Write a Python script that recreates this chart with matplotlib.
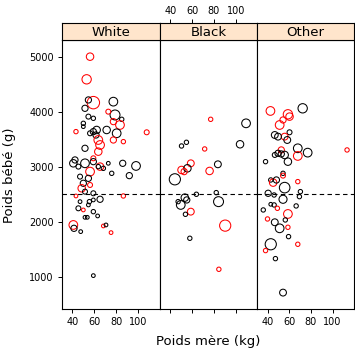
import matplotlib
matplotlib.use("Agg")
import matplotlib.pyplot as plt

# ---- data (mother kg, baby g, circle radius, smoker) ----
races = ["White", "Black", "Other"]

white_lwt = [56.1, 53.0, 59.1, 54.6, 77.3, 51.5, 78.8, 72.7, 54.6, 59.1, 84.9, 83.3, 77.3, 50.0,
             50.0, 43.3, 107.6, 59.1, 62.1, 71.2, 80.3, 56.1, 61.5, 63.6, 77.3, 86.4, 65.2, 51.5,
             63.6, 59.1, 42.4, 40.9, 51.5, 59.1, 45.5, 72.7, 85.8, 97.9, 65.2, 56.1, 68.2, 63.6,
             75.8, 91.8, 47.0, 54.6, 50.0, 56.1, 48.5, 51.5, 59.1, 86.4, 43.3, 65.2, 47.0, 55.5,
             59.1, 54.6, 45.5, 50.0, 59.1, 51.5, 53.6, 63.0, 40.9, 41.5, 47.6, 68.2, 70.6, 75.2,
             59.1]
white_bwt = [5006, 4594, 4170, 4219, 4188, 4067, 3946, 4006, 3916, 3885, 3867, 3764, 3825, 3794,
             3734, 3643, 3631, 3643, 3673, 3673, 3613, 3613, 3582, 3491, 3491, 3461, 3400, 3340,
             3279, 3158, 3128, 3067, 3067, 3097, 3007, 3067, 3067, 3019, 3007, 2916, 2976, 3007,
             2885, 2843, 2825, 2794, 2704, 2673, 2613, 2552, 2522, 2473, 2473, 2413, 2370, 2370,
             2401, 2310, 2249, 2219, 2188, 2085, 2085, 2110, 1946, 1885, 1825, 1928, 1946, 1807,
             1025]
white_r = [12, 15, 20, 10, 14, 10, 16, 8, 8, 7, 7, 14, 10, 7,
           6, 7, 8, 10, 12, 12, 14, 8, 10, 14, 10, 7, 14, 10,
           12, 8, 10, 12, 14, 10, 8, 6, 10, 14, 12, 14, 7, 7,
           7, 10, 8, 10, 10, 8, 12, 8, 8, 7, 6, 10, 6, 7,
           6, 6, 8, 6, 7, 6, 6, 6, 14, 10, 6, 6, 6, 6,
           6]
white_smoke = [1, 1, 1, 0, 0, 0, 0, 1, 0, 0, 0, 1, 1, 0,
               0, 1, 1, 0, 0, 0, 0, 0, 0, 1, 1, 1, 1, 0,
               1, 1, 0, 0, 0, 0, 0, 0, 0, 0, 1, 1, 0, 0,
               0, 0, 0, 0, 0, 1, 1, 0, 0, 1, 1, 0, 0, 0,
               0, 0, 0, 1, 0, 0, 0, 0, 1, 0, 0, 1, 0, 1,
               0]

black_lwt = [77.0, 109.4, 50.3, 54.8, 103.9, 71.5, 58.8, 83.6, 50.3, 55.7, 52.7, 76.0, 44.2,
             53.3, 63.9, 82.1, 47.2, 49.6, 55.1, 84.2, 58.8, 53.9, 90.3, 57.9, 84.5]
black_bwt = [3867, 3794, 3382, 3449, 3413, 3328, 3067, 3049, 2946, 2976, 2916, 2928, 2776,
             2443, 2504, 2534, 2370, 2310, 2401, 2370, 2188, 2140, 1934, 1704, 1140]
black_r = [7, 14, 7, 7, 12, 7, 11, 11, 12, 12, 10, 12, 18,
           12, 7, 7, 7, 14, 10, 16, 11, 7, 18, 7, 7]
black_smoke = [1, 0, 0, 0, 0, 1, 1, 0, 1, 0, 1, 1, 0,
               0, 0, 0, 0, 0, 0, 0, 1, 0, 1, 0, 1]

other_lwt = [42.7, 72.4, 58.8, 60.3, 54.3, 51.2, 60.3, 46.7, 55.8, 49.7, 58.2, 67.9, 77.0,
             113.3, 52.7, 46.7, 49.7, 52.7, 55.8, 67.9, 38.2, 58.8, 54.3, 54.3, 67.9, 43.0,
             45.2, 48.2, 55.8, 70.3, 40.6, 46.1, 69.4, 54.3, 43.0, 46.1, 49.1, 66.4, 36.1,
             58.8, 40.0, 56.4, 46.7, 51.2, 58.8, 59.4, 43.0, 67.9, 38.2, 47.3, 54.3]
other_bwt = [4019, 4067, 3958, 3916, 3855, 3764, 3631, 3582, 3552, 3552, 3491, 3340, 3261,
             3310, 3310, 3219, 3249, 3237, 3219, 3201, 3097, 3097, 2885, 2843, 2734, 2764,
             2716, 2764, 2625, 2552, 2522, 2491, 2461, 2413, 2322, 2310, 2249, 2292, 2219,
             2146, 2055, 2037, 1995, 1885, 1904, 1734, 1595, 1595, 1480, 1334, 716]
other_r = [14, 15, 15, 12, 10, 14, 8, 11, 11, 11, 11, 14, 14,
           7, 10, 8, 10, 10, 12, 14, 7, 12, 7, 8, 7, 7,
           12, 10, 17, 7, 10, 7, 7, 13, 6, 7, 7, 7, 7,
           14, 7, 7, 11, 14, 7, 7, 18, 7, 7, 7, 11]
other_smoke = [1, 0, 1, 1, 1, 1, 0, 0, 1, 0, 0, 0, 0,
               1, 1, 0, 0, 0, 0, 1, 0, 0, 0, 1, 1, 0,
               1, 0, 0, 0, 0, 0, 0, 0, 0, 0, 1, 0, 0,
               1, 1, 0, 0, 0, 1, 0, 0, 1, 1, 0, 0]

panels = [
    (white_lwt, white_bwt, white_r, white_smoke),
    (black_lwt, black_bwt, black_r, black_smoke),
    (other_lwt, other_bwt, other_r, other_smoke),
]

W, H = 355, 352
fig = plt.figure(figsize=(W / 100, H / 100), dpi=100)

edges = [62, 160, 257.3, 354]
y_bot, y_top, strip_top = 309, 40, 22.5
xlim = (30.6, 119.7)
ylim = (418, 5309)
xticks = [40, 60, 80, 100]
yticks = [1000, 2000, 3000, 4000, 5000]

for i, (name, (lwt, bwt, r, smk)) in enumerate(zip(races, panels)):
    x0, x1 = edges[i], edges[i + 1]
    ax = fig.add_axes([x0 / W, 1 - y_bot / H, (x1 - x0) / W, (y_bot - y_top) / H])
    cols = ["red" if s else "black" for s in smk]
    sizes = [0.2 * v ** 2 for v in r]
    ax.scatter(lwt, bwt, s=sizes, facecolors="none", edgecolors=cols, linewidths=0.75)
    ax.axhline(2500, color="black", linestyle=(0, (4, 3)), linewidth=0.8)
    ax.set_xlim(*xlim)
    ax.set_ylim(*ylim)
    for sp in ax.spines.values():
        sp.set_linewidth(0.8)
    ax.set_xticks(xticks)
    ax.set_yticks(yticks)
    ax.tick_params(direction="out", length=3, width=0.7, labelsize=7, pad=3)
    if i == 1:
        # top ticks go on the strip axes (lattice-style alternation)
        ax.tick_params(bottom=True, labelbottom=False, top=False)
    else:
        ax.tick_params(bottom=True, labelbottom=True)
    if i == 0:
        ax.tick_params(left=True, labelleft=True)
    else:
        ax.tick_params(left=False, labelleft=False)

    sax = fig.add_axes([x0 / W, 1 - y_top / H, (x1 - x0) / W, (y_top - strip_top) / H])
    sax.set_facecolor("#ffe5cc")
    sax.set_xlim(*xlim)
    sax.set_yticks([])
    for sp in sax.spines.values():
        sp.set_linewidth(0.8)
    sax.text(0.5, 0.45, name, transform=sax.transAxes, ha="center", va="center",
             fontsize=9.5)
    if i == 1:
        sax.set_xticks(xticks)
        sax.tick_params(axis="x", bottom=False, labelbottom=False, top=True, labeltop=True,
                        direction="out", length=3, width=0.7, labelsize=7, pad=2)
    else:
        sax.set_xticks([])

fig.text(10 / W, 1 - 175 / H, "Poids bébé (g)", rotation=90, ha="center", va="center",
         fontsize=9.5)
fig.text(208 / W, 1 - 341 / H, "Poids mère (kg)", ha="center", va="center", fontsize=9.5)

fig.savefig("out.png", dpi=100)
